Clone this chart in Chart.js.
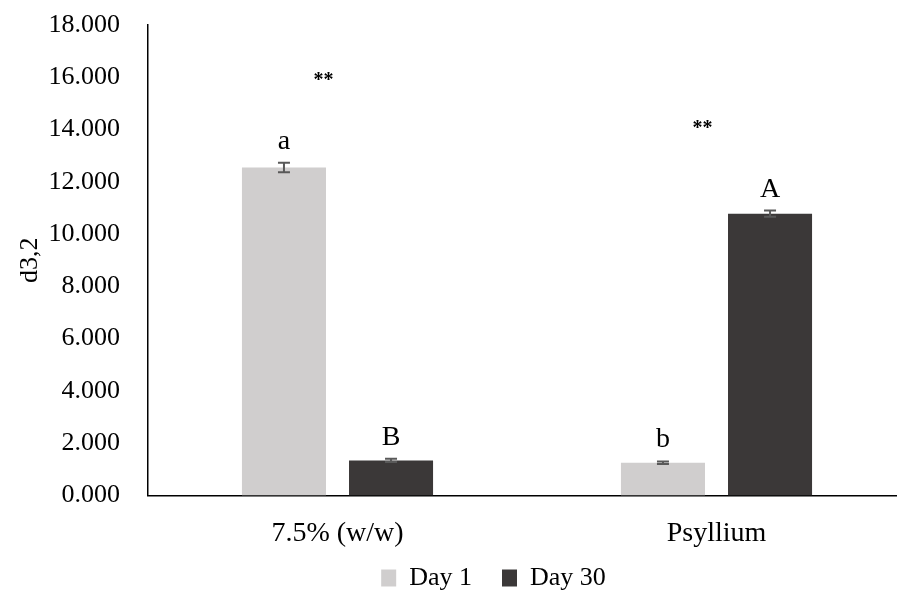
<!DOCTYPE html>
<html lang="en">
<head>
  <meta charset="UTF-8">
  <title>d3,2</title>
  <script src="https://cdn.jsdelivr.net/npm/chart.js"></script>
  <style>
    html, body { margin: 0; padding: 0; background: #fff; overflow: hidden; }
    #wrap { width: 906px; height: 637px; position: relative; }
  </style>
</head>
<body>
  <div id="wrap">
    <canvas id="myChart"></canvas>
  </div>

  <script>
    // data
    const categories = ['7.5% (w/w)', 'Psyllium'];
    const day1 = [12.55, 1.25];
    const day30 = [1.34, 10.78];
    const day1Err = [0.18, 0.05];
    const day30Err = [0.06, 0.12];
    const day1Letters = ['a', 'b'];
    const day30Letters = ['B', 'A'];
    const sigMarks = ['**', '**'];
    const yTicks = [0, 2, 4, 6, 8, 10, 12, 14, 16, 18];

    const serif = '"Liberation Serif", "DejaVu Serif", serif';

    // error bars + letters + significance stars
    const annotate = {
      id: 'annotate',
      afterDatasetsDraw(chart) {
        const c = chart.ctx;
        const y = chart.scales.y;
        const errs = [day1Err, day30Err];
        const letters = [day1Letters, day30Letters];
        const tops = [];
        c.save();
        chart.data.datasets.forEach((ds, di) => {
          const meta = chart.getDatasetMeta(di);
          meta.data.forEach((bar, i) => {
            const v = ds.data[i];
            const e = errs[di][i];
            const yt = y.getPixelForValue(v + e);
            const yb = y.getPixelForValue(v - e);
            c.strokeStyle = '#595959';
            c.lineWidth = 2;
            c.beginPath();
            c.moveTo(bar.x, yt); c.lineTo(bar.x, yb);
            c.moveTo(bar.x - 6, yt); c.lineTo(bar.x + 6, yt);
            c.moveTo(bar.x - 6, yb); c.lineTo(bar.x + 6, yb);
            c.stroke();
            c.fillStyle = '#000';
            c.font = '28px ' + serif;
            c.textAlign = 'center';
            c.textBaseline = 'alphabetic';
            c.fillText(letters[di][i], bar.x, yt - 14);
            tops[i] = Math.min(tops[i] === undefined ? Infinity : tops[i], yt);
          });
        });
        const x = chart.scales.x;
        sigMarks.forEach((s, i) => {
          c.font = 'bold 20px ' + serif;
          c.textAlign = 'center';
          c.textBaseline = 'middle';
          c.fillText(s, x.getPixelForValue(i) - 14, tops[i] - 82);
        });
        c.restore();
      }
    };

    // move the legend a bit, like the original figure
    const legendShift = {
      id: 'legendShift',
      afterLayout(chart) {
        const lg = chart.legend;
        lg.left += 38; lg.right += 38;
        lg.top -= 36; lg.bottom -= 36;
      }
    };

    const ctx = document.getElementById('myChart').getContext('2d');
    const chart = new Chart(ctx, {
      type: 'bar',
      data: {
        labels: categories,
        datasets: [
          { label: 'Day 1', data: day1, backgroundColor: '#d0cece' },
          { label: 'Day 30', data: day30, backgroundColor: '#3b3838' }
        ]
      },
      options: {
        responsive: true,
        maintainAspectRatio: false,
        animation: false,
        categoryPercentage: 0.565,
        barPercentage: 0.785,
        layout: { padding: { left: 5, top: 25, right: 0, bottom: 0 } },
        plugins: {
          tooltip: { enabled: false },
          legend: {
            position: 'bottom',
            labels: {
              color: '#000',
              font: { family: serif, size: 26 },
              boxWidth: 15,
              boxHeight: 17,
              padding: 30
            }
          }
        },
        scales: {
          x: {
            grid: { display: false, drawTicks: false },
            border: { color: '#000', width: 1.5 },
            ticks: { color: '#000', font: { family: serif, size: 28 }, padding: 21 }
          },
          y: {
            min: 0,
            max: 18,
            afterBuildTicks: (s) => { s.ticks = yTicks.map(v => ({ value: v })); },
            afterFit: (s) => { s.width = 143; s.paddingTop = 0; s.paddingBottom = 0; },
            grid: { display: false, drawTicks: false },
            border: { color: '#000', width: 1.5 },
            ticks: {
              color: '#000',
              font: { family: serif, size: 26 },
              padding: 28,
              callback: (v) => v.toFixed(3)
            },
            title: {
              display: true,
              text: 'd3,2',
              color: '#000',
              font: { family: serif, size: 26 },
              padding: { top: 10, bottom: 0 }
            }
          }
        }
      },
      plugins: [annotate, legendShift]
    });
  </script>
</body>
</html>
